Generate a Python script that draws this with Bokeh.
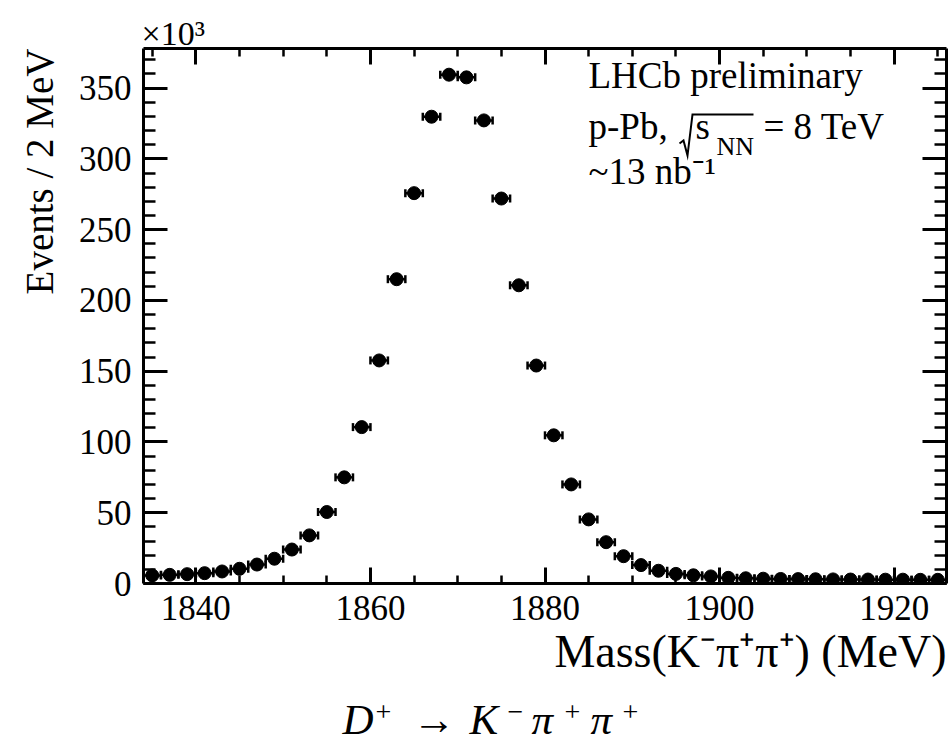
import math
from bokeh.plotting import figure
from bokeh.layouts import column
from bokeh.models import (ColumnDataSource, Whisker, TeeHead, Label, LinearAxis, Title,
                          SingleIntervalTicker, CustomJSTickFormatter, Range1d)
from bokeh.embed import file_html
from bokeh.resources import INLINE

# ---------------- data (bin centres in MeV, counts in 10^3 events / 2 MeV) -------------
mass = [1835, 1837, 1839, 1841, 1843, 1845, 1847, 1849, 1851, 1853,
        1855, 1857, 1859, 1861, 1863, 1865, 1867, 1869, 1871, 1873,
        1875, 1877, 1879, 1881, 1883, 1885, 1887, 1889, 1891, 1893,
        1895, 1897, 1899, 1901, 1903, 1905, 1907, 1909, 1911, 1913,
        1915, 1917, 1919, 1921, 1923, 1925]
events_k = [5.7, 6.1, 6.6, 7.3, 8.5, 10.4, 13.4, 17.5, 24.0, 34.0,
            50.5, 75.0, 110.5, 157.6, 215.0, 275.8, 329.8, 359.5, 357.6, 327.2,
            272.0, 210.7, 154.0, 104.7, 70.0, 45.3, 29.2, 19.3, 13.0, 9.0,
            6.8, 5.8, 5.0, 4.0, 3.7, 3.4, 3.2, 3.1, 3.0, 2.9,
            2.8, 2.8, 2.7, 2.7, 2.6, 2.6]
half_bin = [1.0] * len(mass)

x_ticks_interval = 20
y_ticks_interval = 50
x_label = "Mass(K\u207b\u03c0\u207a\u03c0\u207a) (MeV)"
y_label = "Events / 2 MeV"
multiplier = "\u00d710\u00b3"
legend_line1 = "LHCb preliminary"
legend_line2a = "p-Pb,"
legend_line2_s = "s"
legend_line2_sub = "NN"
legend_line2b = "= 8 TeV"
legend_line3 = "~13 nb\u207b\u00b9"
# caption pieces: (text, is_superscript)
caption_parts = [("D", False), ("+", True), ("\u2192", False), ("K", False), ("\u2212", True),
                 ("\u03c0", False), ("+", True), ("\u03c0", False), ("+", True)]

X_START, X_END = 1834, 1926
Y_START, Y_END = 0, 378

W, H = 952, 743
MAIN_H = 688          # height of the plot figure; caption strip below it
# frame placement on the whole canvas (pixels)
FL, FR, FT, FB = 143, 946, 48, 583
BASE_SHIFT = 0.32     # renderer places the alphabetic baseline this many em too low

def dx(px):
    return X_START + (px - FL) * (X_END - X_START) / (FR - FL)

def dy(py):
    return Y_START + (FB - py) * (Y_END - Y_START) / (FB - FT)

FONT = "Liberation Serif"

p = figure(width=W, height=MAIN_H, x_range=(X_START, X_END), y_range=(Y_START, Y_END),
           output_backend="svg", toolbar_location=None,
           min_border_left=FL, min_border_right=W - FR, min_border_top=FT,
           min_border_bottom=MAIN_H - FB)
p.title.visible = False
p.outline_line_color = None
p.xgrid.visible = False
p.ygrid.visible = False
p.background_fill_color = "white"
p.border_fill_color = "white"

def style_axis(ax, ticker, major_in, minor_in, show_labels):
    ax.ticker = ticker
    ax.axis_line_width = 3
    ax.axis_line_color = "black"
    ax.major_tick_line_width = 3
    ax.minor_tick_line_width = 2.5
    ax.major_tick_in = major_in
    ax.major_tick_out = 0
    ax.minor_tick_in = minor_in
    ax.minor_tick_out = 0
    if show_labels:
        ax.major_label_text_font = FONT
        ax.major_label_text_font_size = "35px"
        ax.major_label_text_color = "black"
        ax.major_label_standoff = 12
    else:
        ax.formatter = CustomJSTickFormatter(code="return ''")
        ax.major_label_text_font_size = "1px"
        ax.major_label_standoff = 0

style_axis(p.xaxis[0], SingleIntervalTicker(interval=x_ticks_interval, num_minor_ticks=4), 16, 8, True)
style_axis(p.yaxis[0], SingleIntervalTicker(interval=y_ticks_interval, num_minor_ticks=5), 24, 12, True)

top_ax = LinearAxis()
style_axis(top_ax, SingleIntervalTicker(interval=x_ticks_interval, num_minor_ticks=4), 16, 8, False)
p.add_layout(top_ax, "above")
right_ax = LinearAxis()
style_axis(right_ax, SingleIntervalTicker(interval=y_ticks_interval, num_minor_ticks=5), 24, 12, False)
p.add_layout(right_ax, "right")

src = ColumnDataSource(dict(
    x=mass, y=events_k,
    lo=[m - h for m, h in zip(mass, half_bin)],
    hi=[m + h for m, h in zip(mass, half_bin)],
))

wh = Whisker(base="y", lower="lo", upper="hi", dimension="width", source=src,
             line_color="black", line_width=2.5,
             lower_head=TeeHead(size=8, line_width=2.5, line_color="black"),
             upper_head=TeeHead(size=8, line_width=2.5, line_color="black"))
p.add_layout(wh)
p.scatter("x", "y", source=src, size=13, color="black")

def side_title(text, side, size, align, offset=0, standoff=0):
    p.add_layout(Title(text=text, align=align, offset=offset, standoff=standoff,
                       text_font=FONT, text_font_size=f"{size}px", text_font_style="normal",
                       text_color="black"), side)

side_title(multiplier, "above", 34, "left", offset=-2, standoff=-6)
side_title(y_label, "left", 39, "right", offset=0, standoff=30)
side_title(x_label, "below", 46, "right", offset=0, standoff=3)

def add_label(fig, text, px, py, size, align="left", style="normal", to_data=True):
    """place text with its alphabetic baseline at canvas pixel (px, py)"""
    py_c = py - BASE_SHIFT * size
    x, y = (dx(px), dy(py_c)) if to_data else (px, py_c)
    fig.add_layout(Label(x=x, y=y, text=text, text_font=FONT,
                         text_font_size=f"{size}px", text_align=align, text_font_style=style,
                         text_baseline="alphabetic", text_color="black"))

# legend block (inside the frame)
add_label(p, legend_line1, 588, 87, 37)
add_label(p, legend_line2a, 588, 138, 37)
add_label(p, legend_line2_s, 695, 138, 37)
add_label(p, legend_line2_sub, 716, 154, 26)
add_label(p, legend_line2b, 763, 138, 37)
add_label(p, legend_line3, 588, 183, 37)
# square-root sign drawn as a stroke over s_NN
root_px = [679, 683, 687, 692, 753]
root_py = [143, 140, 155, 114, 114]
p.line(x=[dx(v) for v in root_px], y=[dy(v) for v in root_py], line_color="black",
       line_width=2, line_join="miter")

# caption strip below the plot; its frame is aligned with the plot frame in the column,
# so its x range spans the frame's canvas pixels and data coordinates equal canvas pixels
bottom = figure(width=W, height=H - MAIN_H, x_range=Range1d(FL, FR), y_range=Range1d(H, MAIN_H),
                output_backend="svg", toolbar_location=None, x_axis_type=None,
                y_axis_type=None, min_border=0)
bottom.title.visible = False
bottom.outline_line_color = None
bottom.xgrid.visible = False
bottom.ygrid.visible = False
bottom.background_fill_color = "white"
bottom.border_fill_color = "white"

cap_x = [342, 375, 412, 469, 507, 531, 564, 590, 622]
for (txt, sup), xpos in zip(caption_parts, cap_x):
    is_letter = txt in ("D", "K", "\u03c0")
    add_label(bottom, txt, xpos, 720 if sup else 733, 28 if sup else 43,
              style="italic" if is_letter else "normal", to_data=False)

layout = column(p, bottom, spacing=0)
open("out.html", "w").write(file_html(layout, INLINE))
